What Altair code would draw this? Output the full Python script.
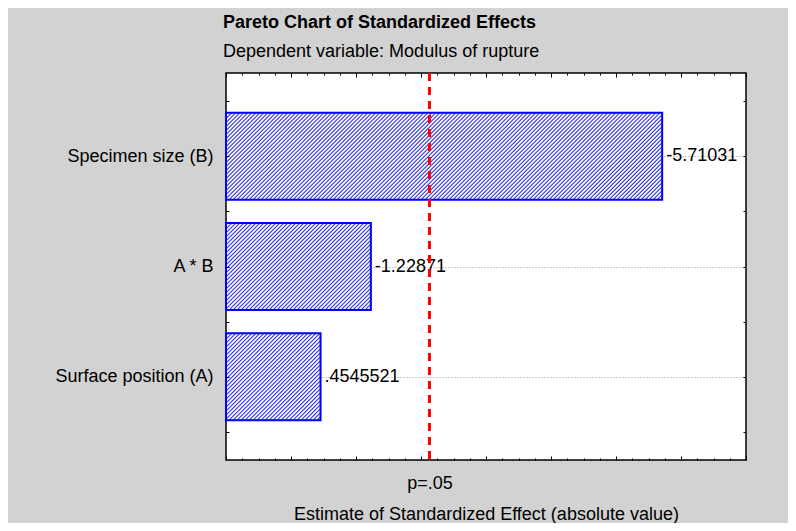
import json
import altair as alt
import pandas as pd

# ---- data ----
effects = ["Specimen size (B)", "A * B", "Surface position (A)"]   # top to bottom
estimates = [-5.71031, -1.22871, 0.4545521]
value_labels = ["-5.71031", "-1.22871", ".4545521"]
t_crit = 2.13
p_label = "p=.05"

title_text = "Pareto Chart of Standardized Effects"
subtitle_text = " Dependent variable: Modulus of rupture"
x_title = "Estimate of Standardized Effect (absolute value)"

# ---- layout / style ----
FONT = "Liberation Sans"
PLOT_W, PLOT_H = 520, 387
X_DOMAIN = [-1, 7]
n = len(effects)
Y_DOMAIN = [1 - 0.755, n + 0.755]
BAR_HALF = 0.395
HATCH_STEP = 4.0          # px between hatch lines (horizontal)
BG = "#d1d2d1"

df = pd.DataFrame({"effect": effects, "estimate": estimates, "label": value_labels})
df["abs"] = df["estimate"].abs()
df["pos"] = list(range(n, 0, -1))

xs = alt.Scale(domain=X_DOMAIN, nice=False, zero=False)
ys = alt.Scale(domain=Y_DOMAIN, nice=False, zero=False)

major_x = list(range(X_DOMAIN[0], X_DOMAIN[1] + 1))
minor_x = [i / 4 for i in range(X_DOMAIN[0] * 4, X_DOMAIN[1] * 4 + 1) if i % 4]
y_ticks = [i / 2 for i in range(1, 2 * n + 2)]
names_by_pos = json.dumps(effects[::-1])

PXX = PLOT_W / (X_DOMAIN[1] - X_DOMAIN[0])
PXY = PLOT_H / (Y_DOMAIN[1] - Y_DOMAIN[0])
X0 = X_DOMAIN[0]

base = alt.Chart(df).transform_calculate(
    y0=f"datum.pos - {BAR_HALF}", y1=f"datum.pos + {BAR_HALF}"
)

enc_bar = dict(
    x=alt.X("abs:Q", scale=xs, axis=None),
    x2=alt.X2(datum=X0),
    y=alt.Y("y0:Q", scale=ys, axis=None),
    y2="y1:Q",
)

bar_fill = base.mark_rect(fill="white", strokeWidth=0).encode(**enc_bar)
bar_outline = base.mark_rect(fill=None, stroke="#0000ff", strokeWidth=2).encode(**enc_bar)

# diagonal hatch lines, derived from each bar's extent
hatch = (
    base.transform_calculate(
        w=f"(datum.abs - {X0}) * {PXX}",
        h=f"{2 * BAR_HALF} * {PXY}",
    )
    .transform_calculate(k=f"sequence(0, ceil((datum.w + datum.h) / {HATCH_STEP}))")
    .transform_flatten(["k"])
    .transform_calculate(c=f"-datum.h + (datum.k + 0.5) * {HATCH_STEP}")
    .transform_calculate(
        xa="max(datum.c, 0)", xb="min(datum.c + datum.h, datum.w)"
    )
    .transform_filter("datum.xb > datum.xa")
    .transform_calculate(
        hx1=f"{X0} + datum.xa / {PXX}",
        hx2=f"{X0} + datum.xb / {PXX}",
        hy1=f"datum.y0 + (datum.xa - datum.c) / {PXY}",
        hy2=f"datum.y0 + (datum.xb - datum.c) / {PXY}",
    )
    .mark_rule(color="#2b2bff", strokeWidth=1.1)
    .encode(
        x=alt.X("hx1:Q", scale=xs, axis=None),
        x2="hx2:Q",
        y=alt.Y("hy1:Q", scale=ys, axis=None),
        y2="hy2:Q",
    )
)

inv = dict(opacity=0)

grid_layer = base.mark_point(**inv).encode(
    x=alt.X("abs:Q", scale=xs, axis=None),
    y=alt.Y("pos:Q", scale=ys, axis=alt.Axis(
        orient="left", values=list(range(1, n + 1)), grid=True, ticks=False,
        labels=False, domain=False, title=None, gridDash=[1, 2],
        gridColor="#9a9a9a", gridWidth=1, zindex=0)),
)

text_layer = base.mark_text(
    align="left", baseline="middle", dx=4, fontSize=18, font=FONT, color="black"
).encode(
    x=alt.X("abs:Q", scale=xs, axis=None),
    y=alt.Y("pos:Q", scale=ys, axis=None),
    text="label:N",
)

rule_layer = alt.Chart(pd.DataFrame({"t": [t_crit]})).mark_rule(
    color="#ff0000", strokeWidth=3, strokeDash=[8, 6]
).encode(x=alt.X("t:Q", scale=xs, axis=None))

is_crit = f"abs(datum.value - {t_crit}) < 1e-6"

axis_a = base.mark_point(**inv).encode(
    x=alt.X("abs:Q", scale=xs, axis=alt.Axis(
        orient="bottom", values=major_x + [t_crit], tickSize=4, offset=-4,
        domain=False, grid=False, tickColor="black", tickWidth=1,
        tickOpacity={"condition": {"test": is_crit, "value": 0}, "value": 1},
        labelExpr=f"{is_crit} ? '{p_label}' : ''", labelOverlap=False,
        labelFlush=False, labelFont=FONT, labelFontSize=18, labelColor="black",
        labelPadding=14, title=x_title, titleFont=FONT, titleFontSize=18,
        titleFontWeight="normal", titleColor="black", titlePadding=13, zindex=1)),
    y=alt.Y("pos:Q", scale=ys, axis=alt.Axis(
        orient="left", values=y_ticks, tickSize=3, offset=-3, domain=False,
        grid=False, tickColor="black", tickWidth=1,
        labelExpr=f"datum.value % 1 == 0 ? {names_by_pos}[datum.value - 1] : ''",
        labelOverlap=False, labelFlush=False, labelFont=FONT, labelFontSize=18,
        labelColor="black", labelPadding=13, title=None, zindex=1)),
)

axis_b = base.mark_point(**inv).encode(
    x=alt.X("abs:Q", scale=xs, axis=alt.Axis(
        orient="top", values=major_x, tickSize=4, offset=-4, domain=False,
        grid=False, labels=False, tickColor="black", tickWidth=1, title=None,
        zindex=1)),
    y=alt.Y("pos:Q", scale=ys, axis=alt.Axis(
        orient="right", values=y_ticks, tickSize=3, offset=-3, domain=False,
        grid=False, labels=False, tickColor="black", tickWidth=1, title=None,
        zindex=1)),
)

axis_c = base.mark_point(**inv).encode(
    x=alt.X("abs:Q", scale=xs, axis=alt.Axis(
        orient="bottom", values=minor_x, tickSize=2, offset=-2, domain=False,
        grid=False, labels=False, tickColor="black", tickWidth=1, title=None,
        zindex=1)),
    y=alt.Y("pos:Q", scale=ys, axis=None),
)

axis_d = base.mark_point(**inv).encode(
    x=alt.X("abs:Q", scale=xs, axis=alt.Axis(
        orient="top", values=minor_x, tickSize=2, offset=-2, domain=False,
        grid=False, labels=False, tickColor="black", tickWidth=1, title=None,
        zindex=1)),
    y=alt.Y("pos:Q", scale=ys, axis=None),
)

TOTAL_W, TOTAL_H = 780, 515
PAD_L, PAD_T = 218, 65

chart = (
    alt.layer(grid_layer, bar_fill, hatch, bar_outline, text_layer, rule_layer,
              axis_a, axis_b, axis_c, axis_d)
    .resolve_axis(x="independent", y="independent")
    .properties(
        width=PLOT_W,
        height=PLOT_H,
        autosize=alt.AutoSizeParams(type="none"),
        padding={"left": PAD_L, "top": PAD_T,
                 "right": TOTAL_W - PAD_L - PLOT_W,
                 "bottom": TOTAL_H - PAD_T - PLOT_H},
        background=BG,
        title=alt.Title(
            text=title_text, subtitle=subtitle_text, anchor="start", frame="group",
            dx=-3, font=FONT, fontSize=18, fontWeight="bold", color="black",
            subtitleFont=FONT, subtitleFontSize=18, subtitleColor="black",
            offset=11, subtitlePadding=11,
        ),
    )
    .configure_view(stroke="black", strokeWidth=1.5, fill="white")
)

chart.save("out.html", embed_options={"renderer": "svg", "actions": False})
